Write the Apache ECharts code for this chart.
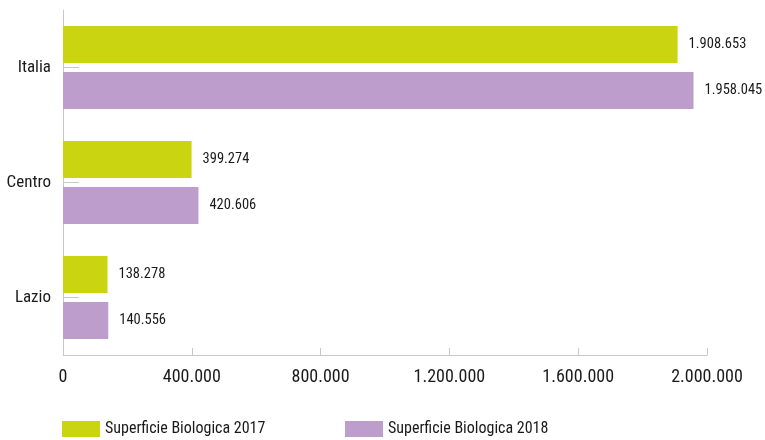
<!DOCTYPE html>
<html>
<head>
<meta charset="utf-8">
<script src="https://cdn.jsdelivr.net/npm/echarts@6/dist/echarts.min.js"></script>
<style>html,body{margin:0;padding:0;background:#fff}#c{width:765px;height:440px}</style>
</head>
<body>
<div id="c"></div>
<script>
const categories = ['Italia', 'Centro', 'Lazio'];
const values2017 = [1908653, 399274, 138278];
const values2018 = [1958045, 420606, 140556];
const seriesNames = ['Superficie Biologica 2017', 'Superficie Biologica 2018'];
const xTicks = [0, 400000, 800000, 1200000, 1600000, 2000000];

const FONT = '"Roboto Condensed", "DejaVu Sans Condensed", sans-serif';
const TEXT = '#1a1a1a';
function fmt(v) {
  return String(Math.round(v)).replace(/\B(?=(\d{3})+(?!\d))/g, '.');
}
const chart = echarts.init(document.getElementById('c'));
const labelCfg = {
  show: true, position: 'right', distance: 11,
  fontFamily: FONT, fontSize: 14.5, color: TEXT,
  formatter: p => fmt(p.value)
};
const legendBase = {
  top: 421, padding: 0,
  itemWidth: 38, itemHeight: 16,
  icon: 'rect',
  textStyle: { fontFamily: FONT, fontSize: 16, color: TEXT }
};
chart.setOption({
  animation: false,
  textStyle: { fontFamily: FONT },
  grid: { left: 63, right: 58, top: 10, bottom: 85, containLabel: false, outerBoundsMode: 'none' },
  legend: [
    Object.assign({}, legendBase, { left: 62, data: [seriesNames[0]] }),
    Object.assign({}, legendBase, { left: 345, data: [seriesNames[1]] })
  ],
  xAxis: {
    type: 'value', min: xTicks[0], max: xTicks[xTicks.length - 1], interval: 400000,
    axisLine: { show: true, lineStyle: { color: '#c8c8c8', width: 1 } },
    axisTick: { show: true, inside: true, length: 7, lineStyle: { color: '#c8c8c8' } },
    splitLine: { show: false },
    axisLabel: { fontFamily: FONT, fontSize: 18, color: TEXT, margin: 13, formatter: v => fmt(v) }
  },
  yAxis: {
    type: 'category', inverse: true, data: categories,
    axisLine: { show: true, lineStyle: { color: '#c8c8c8', width: 1 } },
    axisTick: { show: true, inside: true, alignWithLabel: true, length: 16, lineStyle: { color: '#c8c8c8' } },
    axisLabel: { fontFamily: FONT, fontSize: 17, color: TEXT, margin: 12 }
  },
  series: [
    { name: seriesNames[0], type: 'bar', data: values2017, barWidth: 37, barGap: '24%',
      itemStyle: { color: '#cbd410' }, label: labelCfg },
    { name: seriesNames[1], type: 'bar', data: values2018, barWidth: 37, barGap: '24%',
      itemStyle: { color: '#bc9dcb' }, label: labelCfg }
  ]
});
</script>
</body>
</html>
